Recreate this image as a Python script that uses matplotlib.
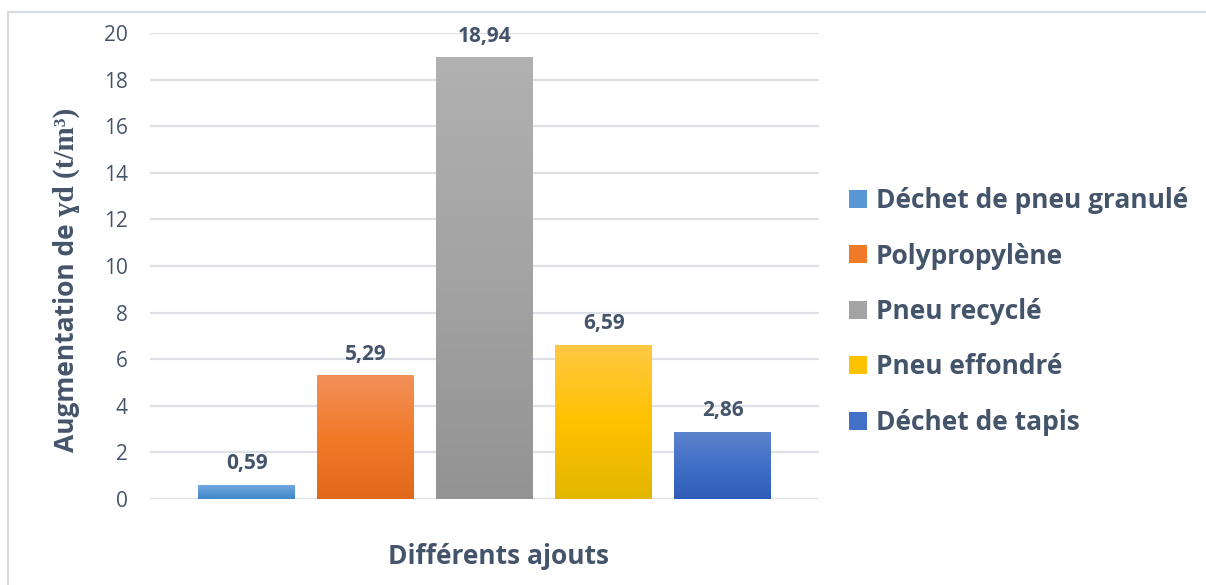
import numpy as np
import matplotlib
matplotlib.use("Agg")
import matplotlib.pyplot as plt
from matplotlib.colors import to_rgb
from matplotlib.patches import Patch, Rectangle

# --- data -------------------------------------------------------------
categories = ["Déchet de pneu granulé", "Polypropylène", "Pneu recyclé",
              "Pneu effondré", "Déchet de tapis"]
values = [0.59, 5.29, 18.94, 6.59, 2.86]
y_ticks = [0, 2, 4, 6, 8, 10, 12, 14, 16, 18, 20]

# gradient stops per bar: top, middle, bottom
grad_top = ["#72a8df", "#f29059", "#b1b1b1", "#ffc843", "#5d83cd"]
grad_mid = ["#5897d4", "#f17a29", "#a3a3a3", "#ffc200", "#4070c7"]
grad_bot = ["#3f87c8", "#e2681a", "#939393", "#e2b600", "#2f5cb7"]

TEXT = "#44546a"
GRID = "#dde1e6"
W, H = 1206, 585

plt.rcParams["font.family"] = ["Open Sans", "DejaVu Sans"]

fig = plt.figure(figsize=(W / 100, H / 100), dpi=100)
fig.patch.set_facecolor("white")

def fx(px):
    return px / W

def fy(py):
    return (H - py) / H

# light frame around the chart area
fig.patches.append(Rectangle((fx(8), fy(600)), fx(1300) - fx(8), fy(12) - fy(600),
                             transform=fig.transFigure, fill=False,
                             edgecolor="#d9dde3", linewidth=1.6))

ax = fig.add_axes([fx(150), fy(499), fx(819) - fx(150), fy(33) - fy(499)])
x = np.arange(len(categories))
bar_w = 0.815
bars = ax.bar(x, values, width=bar_w, color=grad_mid, zorder=2, linewidth=0)

# vertical gradient fill for each bar
n = 256
for patch, ct, cm, cb in zip(bars, grad_top, grad_mid, grad_bot):
    t = np.linspace(0, 1, n)[:, None]
    top, mid, bot = (np.array(to_rgb(c)) for c in (ct, cm, cb))
    img = np.where(t < 0.5, top + (mid - top) * (t / 0.5),
                   mid + (bot - mid) * ((t - 0.5) / 0.5))
    img = np.repeat(img[:, None, :], 2, axis=1)
    x0 = patch.get_x()
    ax.imshow(img, extent=[x0, x0 + patch.get_width(), 0, patch.get_height()],
              aspect="auto", zorder=3, interpolation="bilinear")

for xi, v in zip(x, values):
    ax.annotate(f"{v:.2f}".replace(".", ","), (xi, v), xytext=(0, 8),
                textcoords="offset points", ha="center", va="bottom",
                fontsize=15, fontweight="bold", color=TEXT)

ax.set_xlim(-0.815, 4.807)
ax.set_ylim(0, 20)
ax.set_yticks(y_ticks)
ax.set_xticks([])
ax.tick_params(axis="y", length=0, pad=16, labelsize=15, labelcolor=TEXT)
for s in ax.spines.values():
    s.set_visible(False)
ax.grid(axis="y", color=GRID, linewidth=1.6, zorder=0)
ax.set_axisbelow(True)

# x axis title
fig.text(fx(498), fy(557), "Différents ajouts", ha="center", va="center",
         fontsize=19, fontweight="bold", color=TEXT)

# y axis title: sans part followed by serif symbol part
base_x, base_y = fx(74), fy(452)
t1 = fig.text(base_x, base_y, "Augmentation de ", rotation=90,
              rotation_mode="anchor", ha="left", va="baseline",
              fontsize=19, fontweight="bold", color=TEXT)
fig.canvas.draw()
r = fig.canvas.get_renderer()
ext = t1.get_window_extent(r)
fig.text(base_x, ext.y1 / H, "ɣd (t/m³)", rotation=90,
         rotation_mode="anchor", ha="left", va="baseline",
         fontsize=21, fontweight="bold", color=TEXT,
         family=["Liberation Serif", "DejaVu Serif"])

# legend
handles = [Patch(facecolor=c, edgecolor="none") for c in grad_mid]
fig.legend(handles, categories, loc="upper left",
           bbox_to_anchor=(fx(849), fy(187)), frameon=False,
           prop={"size": 19, "weight": "bold"}, labelcolor=TEXT,
           handlelength=0.68, handleheight=0.68, handletextpad=0.34,
           labelspacing=1.08, borderaxespad=0, borderpad=0)

fig.savefig("out.png", dpi=100, facecolor="white")
